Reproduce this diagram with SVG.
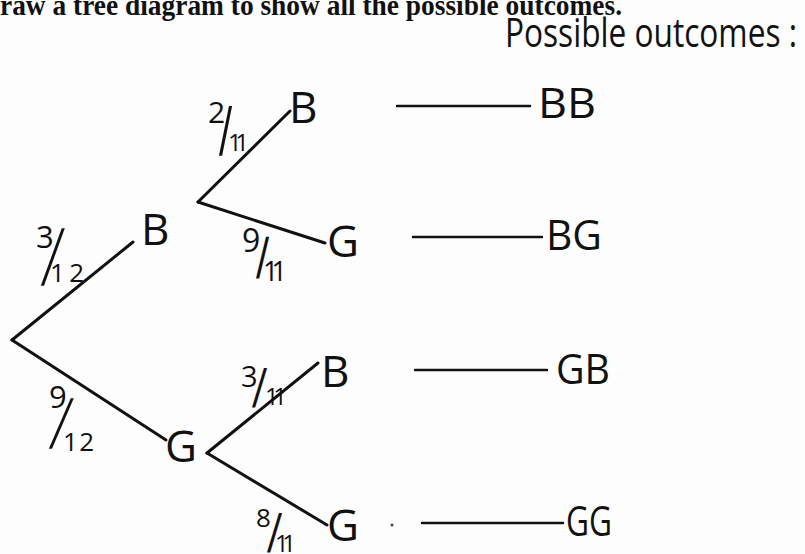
<svg xmlns="http://www.w3.org/2000/svg" width="805" height="554" viewBox="0 0 805 554">
<style>
.bg{fill:#fdfdfd}
.title{font-family:"Liberation Serif","Times New Roman",serif;font-weight:bold;font-size:29px;fill:#111}
.hand{font-family:"Open Sans","Liberation Sans",sans-serif;fill:#111}
.sl{font-family:"Liberation Sans",Arial,sans-serif;font-size:40px;fill:#111}
.node{font-size:44px}
.out{font-size:42px}
.edge{stroke:#111;stroke-width:3;stroke-linecap:round;fill:none}
.dash{stroke:#111;stroke-width:2.5;stroke-linecap:round;fill:none}
</style>
<rect class="bg" x="0" y="0" width="805" height="554"/>
<text class="title" x="0" y="15" textLength="622" lengthAdjust="spacingAndGlyphs">raw a tree diagram to show all the possible outcomes.</text>
<text class="hand" x="505" y="47" font-size="40" textLength="292" lengthAdjust="spacingAndGlyphs">Possible outcomes :</text>

<g id="connectors">
<line class="edge" x1="12" y1="340" x2="133" y2="242"/>
<line class="edge" x1="12" y1="340" x2="166" y2="440"/>
<line class="edge" x1="198" y1="202" x2="290" y2="111"/>
<line class="edge" x1="198" y1="202" x2="325" y2="243"/>
<line class="edge" x1="207" y1="453" x2="318" y2="363"/>
<line class="edge" x1="207" y1="453" x2="327" y2="525"/>
<line class="dash" x1="397" y1="106" x2="530" y2="106"/>
<line class="dash" x1="413" y1="237" x2="542" y2="237"/>
<line class="dash" x1="415" y1="370" x2="547" y2="370"/>
<line class="dash" x1="422" y1="523" x2="563" y2="523"/>
<circle cx="392" cy="525" r="1.5" fill="#444"/>
</g>

<g id="label-3-12">
<text class="hand" x="36" y="248" font-size="31">3</text>
<text class="sl" transform="translate(41,285) skewX(-12.6) scale(1,1.96)">/</text>
<text class="hand" x="50" y="282" font-size="26" textLength="34">12</text>
</g>
<g id="label-9-12">
<text class="hand" x="49" y="408" font-size="31">9</text>
<text class="sl" transform="translate(49,448) skewX(-15.4) scale(1,1.72)">/</text>
<text class="hand" x="63" y="451" font-size="26" textLength="31">12</text>
</g>
<g id="label-2-11">
<text class="hand" x="208" y="123" font-size="30">2</text>
<text class="sl" transform="translate(219,155) skewX(-2.3) scale(1,1.69)">/</text>
<text class="hand" x="228" y="151" font-size="24" textLength="21">11</text>
</g>
<g id="label-9-11">
<text class="hand" x="242" y="252" font-size="32">9</text>
<text class="sl" transform="translate(256,278) skewX(-2.7) scale(1,1.42)">/</text>
<text class="hand" x="263" y="281" font-size="27" textLength="24">11</text>
</g>
<g id="label-3-11">
<text class="hand" x="241" y="387" font-size="29">3</text>
<text class="sl" transform="translate(252,407) skewX(-5.7) scale(1,1.35)">/</text>
<text class="hand" x="265" y="405" font-size="24" textLength="22">11</text>
</g>
<g id="label-8-11">
<text class="hand" x="256" y="527" font-size="26">8</text>
<text class="sl" transform="translate(267,552) skewX(-5.7) scale(1,1.35)">/</text>
<text class="hand" x="275" y="552" font-size="24" textLength="21">11</text>
</g>

<g id="node-B1"><text class="hand node" x="141" y="245">B</text></g>
<g id="node-G1"><text class="hand node" x="165" y="462">G</text></g>
<g id="node-BB-B"><text class="hand node" x="289" y="123">B</text></g>
<g id="node-BG-G"><text class="hand node" x="327" y="257">G</text></g>
<g id="node-GB-B"><text class="hand node" x="321" y="387">B</text></g>
<g id="node-GG-G"><text class="hand node" x="327" y="541">G</text></g>

<g id="outcome-BB"><text class="hand out" x="538" y="118" textLength="58" lengthAdjust="spacingAndGlyphs">BB</text></g>
<g id="outcome-BG"><text class="hand out" x="546" y="250" textLength="56" lengthAdjust="spacingAndGlyphs">BG</text></g>
<g id="outcome-GB"><text class="hand out" x="556" y="384" textLength="54" lengthAdjust="spacingAndGlyphs">GB</text></g>
<g id="outcome-GG"><text class="hand out" x="566" y="536" textLength="46" lengthAdjust="spacingAndGlyphs">GG</text></g>
</svg>
